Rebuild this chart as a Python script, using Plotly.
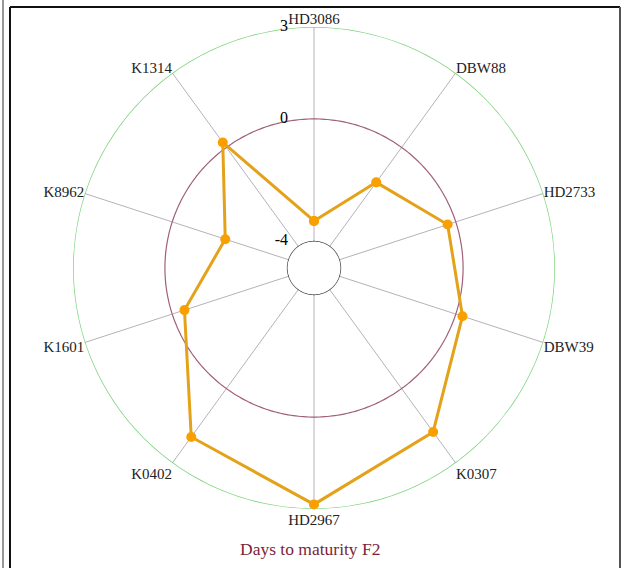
import numpy as np
import plotly.graph_objects as go

categories = ["HD3086", "DBW88", "HD2733", "DBW39", "K0307",
              "HD2967", "K0402", "K1601", "K8962", "K1314"]
values = [-3.33, -1.41, -0.28, 0.23, 1.75, 2.85, 1.95, -0.42, -1.82, 0.2]
radial_ticks = [-4, 0, 3]
title_text = "Days to maturity F2"

W, H = 624, 568
n = len(categories)
angles = [i * 360.0 / n for i in range(n)]
circ = np.linspace(0, 360, 361)

fig = go.Figure()
# reference circles
fig.add_trace(go.Scatterpolar(r=[-4] * len(circ), theta=circ, mode="lines",
                              line=dict(color="#444444", width=1.3), hoverinfo="skip", showlegend=False))
fig.add_trace(go.Scatterpolar(r=[0] * len(circ), theta=circ, mode="lines",
                              line=dict(color="#a0607a", width=1.2), hoverinfo="skip", showlegend=False))
fig.add_trace(go.Scatterpolar(r=[3] * len(circ), theta=circ, mode="lines",
                              line=dict(color="#7fd37f", width=1.5), hoverinfo="skip", showlegend=False))
# radial tick labels (left of the top spoke)
fig.add_trace(go.Scatterpolar(
    r=radial_ticks, theta=[0] * len(radial_ticks), mode="markers+text",
    text=[str(t) for t in radial_ticks], textposition="middle left",
    marker=dict(size=40, opacity=0), cliponaxis=False,
    textfont=dict(family="Liberation Serif", size=16, color="#000"),
    hoverinfo="skip", showlegend=False))
# data
fig.add_trace(go.Scatterpolar(
    r=values + values[:1], theta=angles + angles[:1], mode="lines+markers",
    line=dict(color="#E3A21A", width=3),
    marker=dict(color="#F9A000", size=10),
    showlegend=False))

cx, cy, R = 314, 268, 241
fig.update_layout(
    width=W, height=H,
    margin=dict(l=0, r=0, t=0, b=0),
    paper_bgcolor="white",
    font=dict(family="Liberation Serif", color="#222"),
    polar=dict(
        domain=dict(x=[(cx - R) / W, (cx + R) / W],
                    y=[(H - cy - R) / H, (H - cy + R) / H]),
        bgcolor="white",
        hole=0.11,
        angularaxis=dict(
            tickmode="array", tickvals=angles, ticktext=categories,
            direction="clockwise", rotation=90, thetaunit="degrees",
            showline=False,
            gridcolor="#b8b0bc", gridwidth=1, ticks="",
            tickfont=dict(family="Liberation Serif", size=15, color="#222")),
        radialaxis=dict(
            range=[-4, 3], tickmode="array", tickvals=radial_ticks,
            showticklabels=False, showline=False,
            showgrid=False, ticks=""),
    ),
    annotations=[dict(text=title_text, x=310 / W, y=1 - 549 / H, xref="paper", yref="paper",
                      yanchor="middle", xanchor="center",
                      showarrow=False, font=dict(family="Liberation Serif", size=17.5, color="#7a1f3a"))],
    shapes=[
        dict(type="line", xref="paper", yref="paper", x0=3 / W, x1=3 / W, y0=0, y1=1,
             line=dict(color="#333", width=1)),
        dict(type="line", xref="paper", yref="paper", x0=10 / W, x1=10 / W, y0=0, y1=1 - 7 / H,
             line=dict(color="#111", width=2)),
        dict(type="line", xref="paper", yref="paper", x0=10 / W, x1=620 / W, y0=1 - 7 / H, y1=1 - 7 / H,
             line=dict(color="#111", width=2)),
        dict(type="line", xref="paper", yref="paper", x0=620 / W, x1=620 / W, y0=0, y1=1 - 7 / H,
             line=dict(color="#555", width=2)),
    ],
)
fig.write_html("out.html")
